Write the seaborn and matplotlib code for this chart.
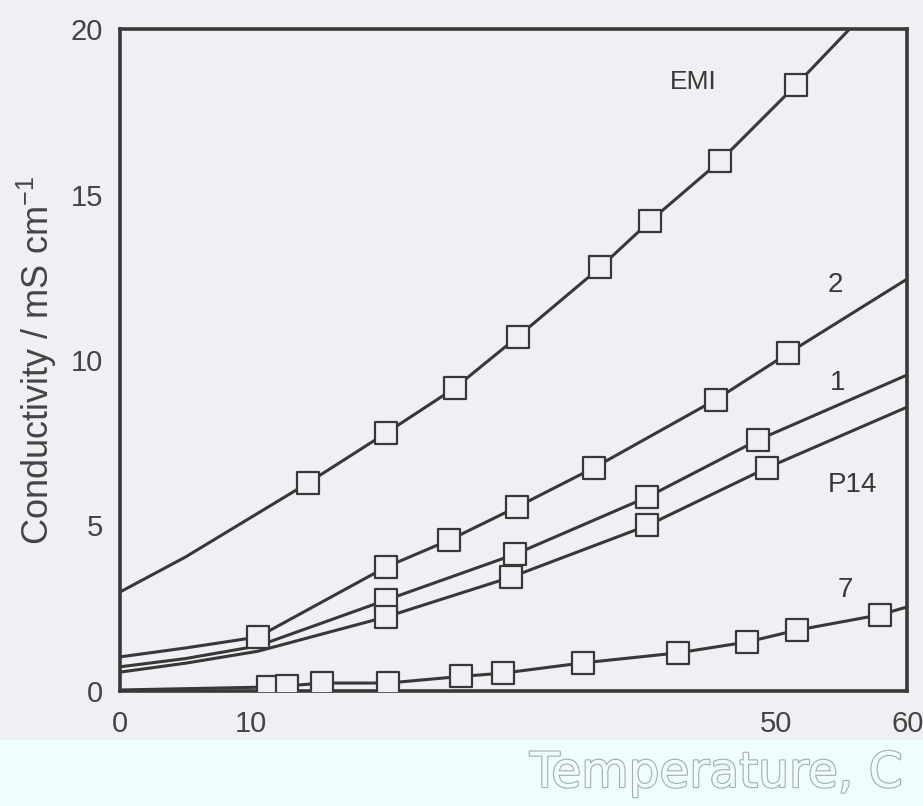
import matplotlib
matplotlib.use("Agg")
import matplotlib.pyplot as plt
import matplotlib.patheffects as pe
from matplotlib.patches import Rectangle
import seaborn as sns
import pandas as pd

# ─────────────────────────────────────────────
# Data
# ─────────────────────────────────────────────
# measured points (open squares)
emi_x = [14.3, 20.3, 25.5, 30.3, 36.6, 40.4, 45.7, 51.5]
emi_y = [6.28, 7.8, 9.15, 10.7, 12.8, 14.2, 16.0, 18.3]
s2_x  = [10.5, 20.3, 25.1, 30.25, 36.1, 45.4, 50.9]
s2_y  = [1.63, 3.75, 4.56, 5.56, 6.74, 8.8, 10.2]
s1_x  = [20.3, 30.1, 40.2, 48.6]
s1_y  = [2.75, 4.13, 5.86, 7.58]
p14_x = [20.3, 29.8, 40.2, 49.3]
p14_y = [2.24, 3.44, 5.0, 6.74]
s7_x  = [11.3, 12.7, 15.4, 20.4, 26.0, 29.2, 35.3, 42.5, 47.8, 51.6, 57.9]
s7_y  = [0.12, 0.15, 0.24, 0.24, 0.44, 0.54, 0.85, 1.15, 1.48, 1.84, 2.3]

# fitted curve parts (x=0 side and right / top side)
emi_ext_x = [0, 5, 55.6]
emi_ext_y = [2.99, 4.05, 20.0]
s2_ext_x  = [0, 5, 60]
s2_ext_y  = [1.03, 1.3, 12.45]
s1_ext_x  = [0, 5, 10.5, 60]
s1_ext_y  = [0.73, 0.98, 1.36, 9.55]
p14_ext_x = [0, 5, 10.5, 60]
p14_ext_y = [0.57, 0.84, 1.2, 8.58]
s7_ext_x  = [0, 60]
s7_ext_y  = [0.03, 2.54]

series_names = ["EMI", "2", "1", "P14", "7"]
label_x = [43.7, 54.5, 54.7, 55.8, 55.3]
label_y = [18.4, 12.27, 9.3, 6.22, 3.05]

x_ticks  = [0, 10, 20, 30, 40, 50, 60]
x_labels = ["0", "10", "", "", "", "50", "60"]
y_ticks  = [0, 5, 10, 15, 20]

# ─────────────────────────────────────────────
# Style
# ─────────────────────────────────────────────
BG    = "#eff0f4"
BAND  = "#effdfd"
INK   = "#383838"

sns.set_theme(style="white")
plt.rcParams["font.family"] = ["Liberation Sans", "DejaVu Sans"]
plt.rcParams["mathtext.fontset"] = "custom"
plt.rcParams["mathtext.rm"] = "Liberation Sans"

fig = plt.figure(figsize=(9.23, 8.06), dpi=100, facecolor=BG)
fig.patches.append(Rectangle((0, 0), 1, 66 / 806, transform=fig.transFigure,
                             facecolor=BAND, edgecolor="none", zorder=0))
ax = fig.add_axes([0.130, 0.1427, 0.853, 0.8213])
ax.set_facecolor(BG)

curves = [
    (emi_x, emi_y, emi_ext_x, emi_ext_y),
    (s2_x, s2_y, s2_ext_x, s2_ext_y),
    (s1_x, s1_y, s1_ext_x, s1_ext_y),
    (p14_x, p14_y, p14_ext_x, p14_ext_y),
    (s7_x, s7_y, s7_ext_x, s7_ext_y),
]

for name, (mx, my, ex, ey) in zip(series_names, curves):
    line_df = pd.DataFrame({"x": mx + ex, "y": my + ey}).sort_values("x")
    sns.lineplot(data=line_df, x="x", y="y", ax=ax, color=INK, lw=2.2,
                 estimator=None, sort=True, zorder=2)
    pts = pd.DataFrame({"x": mx, "y": my})
    sns.scatterplot(data=pts, x="x", y="y", ax=ax, marker="s", s=250,
                    facecolor=BG, edgecolor=INK, linewidth=1.6, zorder=3)

for name, tx, ty in zip(series_names, label_x, label_y):
    ax.text(tx, ty, name, fontsize=20 if name != "EMI" else 19,
            color=INK, ha="center", va="center")

ax.set_xlim(0, 60)
ax.set_ylim(0, 20)
ax.set_xticks(x_ticks)
ax.set_xticklabels(x_labels)
ax.set_yticks(y_ticks)
ax.tick_params(axis="both", direction="in", length=12, width=2, color=INK,
               labelsize=21, labelcolor="#444444")
ax.tick_params(axis="x", pad=14)
ax.tick_params(axis="y", pad=12)
ax.set_xlabel("")
ax.set_ylabel("Conductivity / mS cm$^{-1}$", fontsize=26, color="#444444")
ax.yaxis.set_label_coords(-0.078, 0.5)

for sp in ax.spines.values():
    sp.set_visible(True)
    sp.set_color(INK)
    sp.set_linewidth(2.6)

# outlined x title in the cyan band
fig.text(0.978, 33 / 806, "Temperature, C", fontsize=35, color=BAND,
         ha="right", va="center", family="DejaVu Sans",
         path_effects=[pe.withStroke(linewidth=1.6, foreground="#a8abae")])

plt.savefig("out.png", dpi=100, facecolor=BG)
